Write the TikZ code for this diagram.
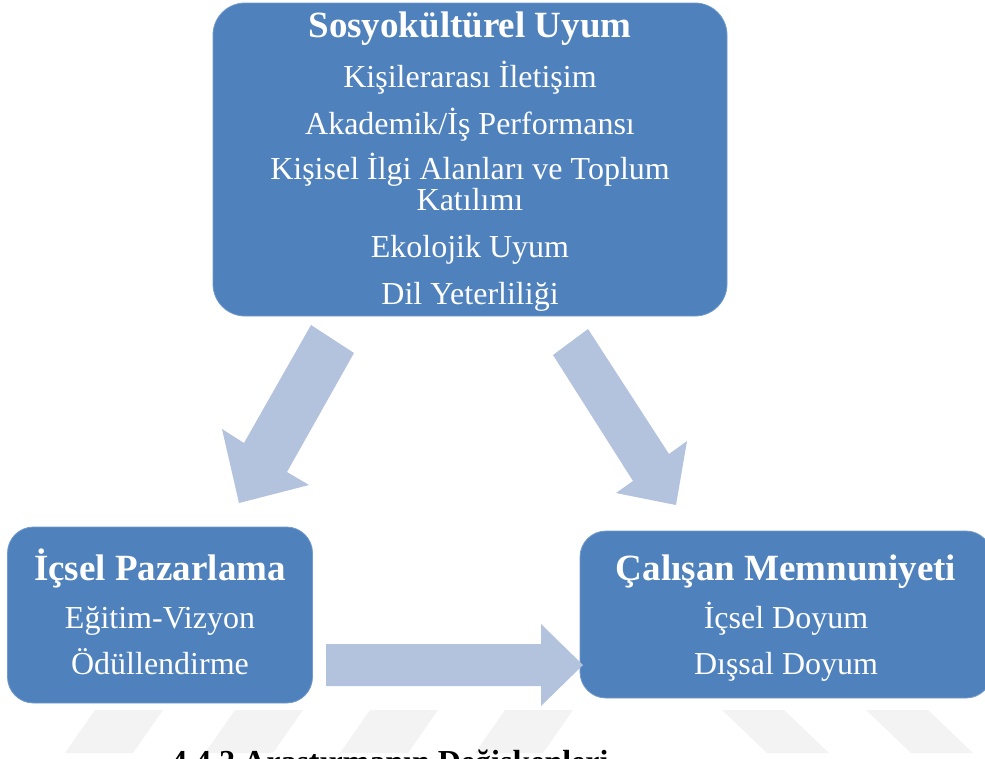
\documentclass[tikz,border=0pt]{standalone}
\usepackage{fontspec}
\setmainfont{Liberation Serif}
\definecolor{boxblue}{HTML}{4F81BD}
\definecolor{arrowblue}{HTML}{B3C2DD}
\definecolor{markgray}{HTML}{F3F3F3}
\begin{document}
\begin{tikzpicture}[x=1pt,y=-1pt,
  panel/.style={fill=boxblue, draw=boxblue!80!white, line width=0.8pt, inner sep=0pt},
  headtext/.style={anchor=base, text=white, inner sep=0pt, font=\fontsize{37}{44}\selectfont\bfseries},
  itemtext/.style={anchor=base, text=white, inner sep=0pt, font=\fontsize{32}{38}\selectfont},
  blockarrow/.style={fill=arrowblue, draw=none},
  stripe/.style={fill=markgray, draw=none}]
\useasboundingbox (0,0) rectangle (985,758);
\clip (0,0) rectangle (985,758);

% faint diagonal stripes along the lower edge
\foreach \sx in {95,235,370,505}
  \fill[stripe] (\sx,710) -- (\sx+68,710) -- (\sx+38,753) -- (\sx-30,753) -- cycle;
\foreach \sx in {722,866}
  \fill[stripe] (\sx,710) -- (\sx+62,710) -- (\sx+107,753) -- (\sx+45,753) -- cycle;

% panels
\node[panel, minimum width=514pt, minimum height=313pt, rounded corners=32pt] (socio) at (470,159.5) {};
\node[panel, minimum width=305pt, minimum height=176pt, rounded corners=26pt] (ipaz) at (160,615) {};
\node[panel, minimum width=412pt, minimum height=167pt, rounded corners=26pt] (calm) at (786,614.5) {};

% panel texts
\node[headtext] (socioT) at (470,37) {Sosyokültürel Uyum};
\node[itemtext] (socio1) at (470,87) {Kişilerarası İletişim};
\node[itemtext] (socio2) at (470,134) {Akademik/İş Performansı};
\node[itemtext] (socio3) at (470,179) {Kişisel İlgi Alanları ve Toplum};
\node[itemtext] (socio4) at (470,210) {Katılımı};
\node[itemtext] (socio5) at (470,257) {Ekolojik Uyum};
\node[itemtext] (socio6) at (470,304) {Dil Yeterliliği};

\node[headtext] (ipazT) at (160,580) {İçsel Pazarlama};
\node[itemtext] (ipaz1) at (160,628) {Eğitim-Vizyon};
\node[itemtext] (ipaz2) at (160,674) {Ödüllendirme};

\node[headtext] (calmT) at (786,580) {Çalışan Memnuniyeti};
\node[itemtext] (calm1) at (786,628) {İçsel Doyum};
\node[itemtext] (calm2) at (786,674) {Dışsal Doyum};

% block arrows between the panels
\fill[blockarrow] (311,325) -- (354,353) -- (287,472) -- (309,485) -- (239,503) -- (222,429) -- (244,443) -- cycle;
\fill[blockarrow] (588,329) -- (669,454) -- (687,441) -- (676,505) -- (616,493) -- (633,481) -- (553,355) -- cycle;
\fill[blockarrow] (326,644) -- (541,644) -- (541,624) -- (583,665) -- (541,706) -- (541,686) -- (326,686) -- cycle;

% section heading below
\node[anchor=base west, inner sep=0pt, font=\fontsize{32}{38}\selectfont\bfseries] (sect) at (171,772) {4.4.2 Araştırmanın Değişkenleri};
\end{tikzpicture}
\end{document}
